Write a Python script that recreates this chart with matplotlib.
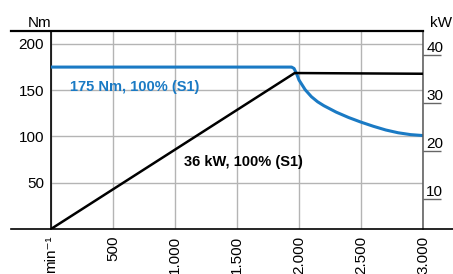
import matplotlib.pyplot as plt
from matplotlib.lines import Line2D
import matplotlib.transforms as mtransforms

plt.rcParams['font.family'] = ['Liberation Sans', 'DejaVu Sans']

# speed axis
speed_ticks = [0, 500, 1000, 1500, 2000, 2500, 3000]
speed_labels = ['min⁻¹', '500', '1.000', '1.500', '2.000', '2.500', '3.000']

# torque curve (Nm) vs speed (rpm)
torque_rpm = [0, 1940, 1960, 1980, 2000, 2050, 2100, 2150, 2200, 2300, 2400,
              2500, 2600, 2700, 2800, 2900, 3000]
torque_nm = [175, 175, 173.5, 168, 161, 150.5, 143, 137.5, 133.3, 126.3, 120.5,
             115.5, 111, 107, 104, 102, 101]

# power curve (kW) vs speed (rpm)
power_rpm = [0, 1965, 3000]
power_kw = [3.8, 36.3, 36.15]

nm_ticks = [50, 100, 150, 200]
kw_ticks = [10, 20, 30, 40]

blue = '#1a7ac4'
grid_c = '#b4b4b4'

fig = plt.figure(figsize=(4.53, 2.74), dpi=100)
ax = fig.add_axes([51 / 453, 1 - 229 / 274, (423 - 51) / 453, (229 - 31) / 274])
ax2 = ax.twinx()

ax.set_xlim(0, 3000)
ax.set_ylim(0, 214)
ax2.set_ylim(3.8, 45.06)

ax.set_xticks(speed_ticks)
ax.set_xticklabels(speed_labels, rotation=90, fontsize=11)
ax.set_yticks(nm_ticks)
ax.set_yticklabels([str(v) for v in nm_ticks], fontsize=11)
ax.tick_params(axis='both', length=0, pad=5)
ax.grid(True, color=grid_c, linewidth=1.0)
ax.set_axisbelow(True)

for s in ['top', 'bottom', 'right']:
    ax.spines[s].set_visible(False)
ax.spines['left'].set_linewidth(1.2)
ax.spines['left'].set_color('black')

for s in ['top', 'bottom', 'left']:
    ax2.spines[s].set_visible(False)
ax2.spines['right'].set_color('#555555')
ax2.spines['right'].set_linewidth(1.1)
ax2.set_yticks(kw_ticks)
ax2.set_yticklabels([])
ax2.tick_params(axis='y', direction='out', length=13, width=1.0, color='#666666')

trans = mtransforms.blended_transform_factory(ax2.transAxes, ax2.transData)
for v in kw_ticks:
    ax2.text(1.009, v, str(v), transform=trans, fontsize=11, ha='left', va='bottom')

ax.plot(torque_rpm, torque_nm, color=blue, linewidth=2.2, solid_joinstyle='round', zorder=3)
ax2.plot(power_rpm, power_kw, color='black', linewidth=1.8, zorder=3)

ax.text(150, 153, '175 Nm, 100% (S1)', color=blue, fontsize=10.5, fontweight='bold',
        ha='left', va='center')
ax.text(1075, 72.5, '36 kW, 100% (S1)', color='black', fontsize=10.5, fontweight='bold',
        ha='left', va='center')

# frame lines across top and bottom
fig.add_artist(Line2D([11 / 453, 423 / 453], [1 - 31 / 274] * 2, color='black', linewidth=1.6))
fig.add_artist(Line2D([11 / 453, 1.0], [1 - 229 / 274] * 2, color='black', linewidth=1.2))

fig.text(51 / 453, 1 - 27 / 274, 'Nm', fontsize=11, ha='right', va='baseline')
fig.text(430 / 453, 1 - 27 / 274, 'kW', fontsize=11, ha='left', va='baseline')

fig.savefig('out.png', dpi=100)
